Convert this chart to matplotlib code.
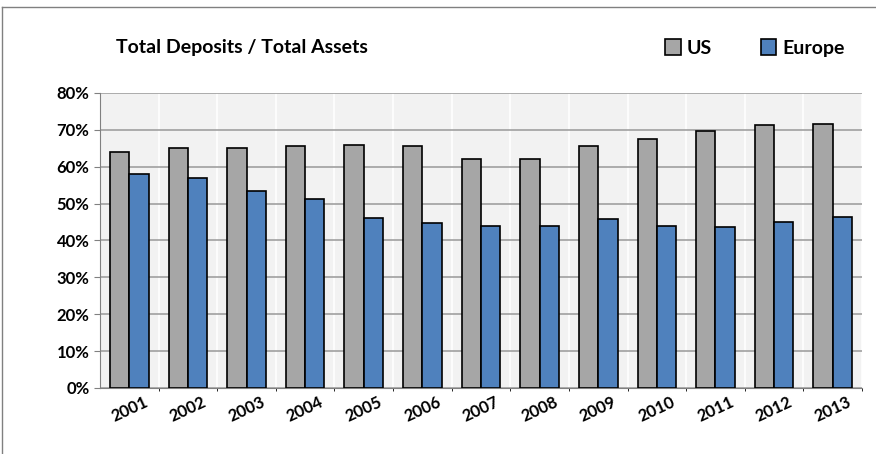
import matplotlib
matplotlib.use('Agg')
import matplotlib.pyplot as plt
import numpy as np
from matplotlib.ticker import PercentFormatter

plt.rcParams['font.family'] = ['Lato', 'DejaVu Sans']

years = ['2001', '2002', '2003', '2004', '2005', '2006', '2007',
         '2008', '2009', '2010', '2011', '2012', '2013']
us = [64, 65, 65, 65.5, 66, 65.5, 62, 62, 65.5, 67.5, 69.8, 71.4, 71.7]
europe = [58, 57, 53.4, 51.2, 46, 44.8, 43.9, 44, 45.8, 44, 43.6, 45, 46.3]

fig = plt.figure(figsize=(8.76, 4.54), dpi=100)
ax = fig.add_axes([100 / 876, 1 - 388 / 454, 762 / 876, 295 / 454])
ax.set_facecolor('#f2f2f2')

x = np.arange(len(years))
w = 0.33
ax.bar(x - w / 2, us, w, color='#a6a6a6', edgecolor='black', linewidth=1.2, label='US', zorder=3)
ax.bar(x + w / 2, europe, w, color='#4f81bd', edgecolor='black', linewidth=1.2, label='Europe', zorder=3)

ax.set_ylim(0, 80)
ax.set_xlim(-0.5, len(years) - 0.5)
ax.set_yticks(range(0, 81, 10))
ax.yaxis.set_major_formatter(PercentFormatter(decimals=0))
ax.set_xticks(x)
ax.set_xticklabels(years, rotation=25, ha='center')
for lab in ax.get_xticklabels() + ax.get_yticklabels():
    lab.set_fontweight('bold')
    lab.set_fontsize(12)
ax.grid(axis='y', color='#a0a0a0', linewidth=1.2, zorder=0)
ax.grid(axis='x', color='white', linewidth=1.2, zorder=0)
ax.set_xticks(x + 0.5, minor=True)
ax.grid(axis='x', which='minor', color='white', linewidth=1.2, zorder=0)
ax.grid(axis='x', which='major', visible=False)
ax.tick_params(axis='x', length=0, pad=4)
ax.tick_params(axis='y', length=4, color='#808080')
for side in ['top', 'right']:
    ax.spines[side].set_visible(False)
for side in ['left', 'bottom']:
    ax.spines[side].set_color('#808080')

fig.text(116 / 876, 1 - 48 / 454, 'Total Deposits / Total Assets', fontsize=14,
         fontweight='bold', va='center')
fig.legend(loc='center right', bbox_to_anchor=(862 / 876, 1 - 48 / 454), ncol=2,
           frameon=False, prop={'weight': 'bold', 'size': 14}, handlelength=0.8,
           handleheight=0.9, columnspacing=2.5, handletextpad=0.3)

border = plt.Rectangle((0.002, -0.01), 1.2, 1.2 - 0.2 + 0.2, transform=fig.transFigure,
                       fill=False, edgecolor='#808080', linewidth=1)
fig.add_artist(plt.Line2D([0.002, 0.002], [0, 0.985], transform=fig.transFigure, color='#808080', lw=1))
fig.add_artist(plt.Line2D([0.002, 1], [0.985, 0.985], transform=fig.transFigure, color='#808080', lw=1))

fig.savefig('out.png', dpi=100)
